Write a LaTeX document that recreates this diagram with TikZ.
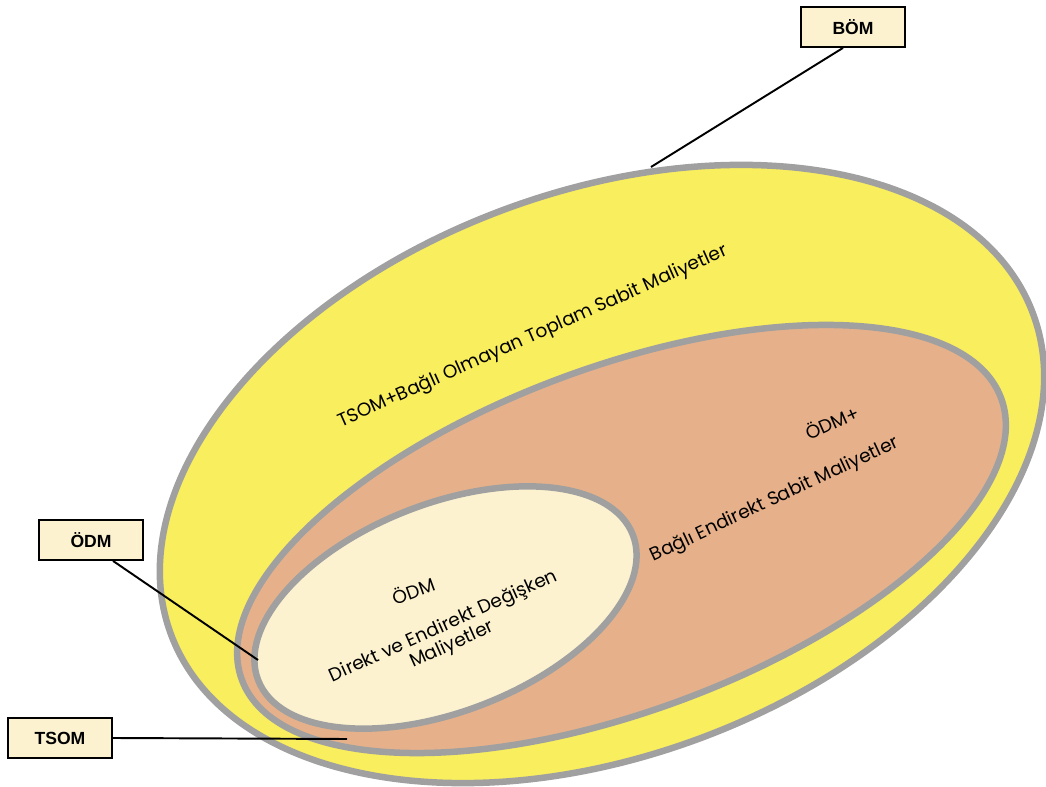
\documentclass[tikz,border=0pt]{standalone}
\usepackage{fontspec}
\setmainfont{Poppins}
\newfontfamily\labelfont{Liberation Sans}
\usetikzlibrary{shapes.geometric}
\definecolor{bomyellow}{RGB}{249,238,93}
\definecolor{odmorange}{RGB}{230,177,138}
\definecolor{odmcream}{RGB}{252,242,208}
\definecolor{rimgray}{RGB}{160,160,160}
\tikzset{
  setshape/.style={ellipse, draw=rimgray, line width=3.7pt, inner sep=0pt},
  tag/.style={rectangle, draw, line width=1.1pt, fill=odmcream, minimum width=59pt, minimum height=22.7pt, font=\labelfont\bfseries\fontsize{10}{12}\selectfont},
  settext/.style={font=\fontsize{10.6}{11.5}\selectfont, align=center}
}
\begin{document}
\begin{tikzpicture}[x=0.02cm, y=-0.02cm]
	\useasboundingbox (0,0) rectangle (1046,787);

        \node at (602,474) [setshape, fill=bomyellow, minimum width=18.4cm, minimum height=11.28cm, rotate=20.4] (bom) {};
        \node at (621.5,539) [setshape, fill=odmorange, minimum width=16.2cm, minimum height=6.88cm, rotate=20.35] (odmplus) {};
        \node at (445.5,607.5) [setshape, fill=odmcream, minimum width=8.04cm, minimum height=4.16cm, rotate=21.2] (odm) {};

        \node at (533,337) [settext, rotate=24] (bomtext) {TSOM+Bağlı Olmayan Toplam Sabit Maliyetler};
        \node at (832,422) [settext, rotate=24] (odmplustext) {ÖDM+};
        \node at (775,500) [settext, rotate=25] (fixtext) {Bağlı Endirekt Sabit Maliyetler};
        \node at (413,590) [settext, rotate=20] (odmtext) {ÖDM};
        \node at (448,636) [settext, rotate=24.3] (vartext) {Direkt ve Endirekt Değişken\\Maliyetler};

        \node at (853,27) [tag] (bomtag) {BÖM};
        \node at (91,540) [tag] (odmtag) {ÖDM};
        \node at (60,738) [tag] (tsomtag) {TSOM};

	\coordinate (bomtip) at (651,167);
	\coordinate (odmtip) at (258,660);
	\coordinate (tsomtip) at (347,739);

        \draw [line width=1.1pt] ([xshift=-0.2cm]bomtag.south) -- (bomtip);
        \draw [line width=1.1pt] ([xshift=0.44cm]odmtag.south) -- (odmtip);
        \draw [line width=1.1pt] (tsomtag.east) -- (tsomtip);
\end{tikzpicture}
\end{document}
